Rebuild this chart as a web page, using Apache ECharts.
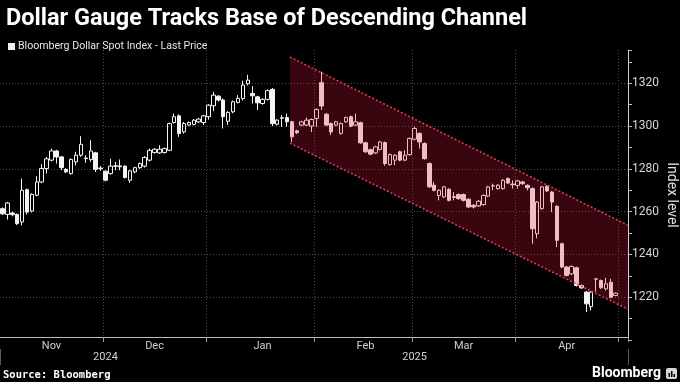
<!DOCTYPE html>
<html><head><meta charset="utf-8">
<script src="https://cdn.jsdelivr.net/npm/echarts@6/dist/echarts.min.js"></script>
<style>html,body{margin:0;padding:0;background:#000;}#c{width:680px;height:382px;}</style>
</head><body><div id="c"></div>
<script>
// Trading days shown (one candle per day), by month
const monthDays = [
  ['2024-11', [1,4,5,6,7,8,11,12,13,14,15,18,19,20,21,22,25,26,27,28,29]],
  ['2024-12', [2,3,4,5,6,9,10,11,12,13,16,17,18,19,20,23,24,26,27,30,31]],
  ['2025-01', [2,3,6,7,8,9,10,13,14,15,16,17,20,21,22,23,24,27,28,29,30,31]],
  ['2025-02', [3,4,5,6,7,10,11,12,13,14,17,18,19,20,21,24,25,26,27,28]],
  ['2025-03', [3,4,5,6,7,10,11,12,13,14,17,18,19,20,21,24,25,26,27,28,31]],
  ['2025-04', [1,2,3,4,7,8,9,10,11,14,15,16,17,21,22,23,24,25,28,29,30]],
  ['2025-05', [1,2]]
];
const monthNames = {'11':'Nov','12':'Dec','01':'Jan','02':'Feb','03':'Mar','04':'Apr','05':'May'};

// Bloomberg Dollar Spot Index daily OHLC
const opens = [1261.4,1258.7,1259.4,1258.7,1255.2,1270.3,1260.3,1267.7,1273.9,1280.2,
1284.1,1288.4,1285.6,1279.8,1277.8,1283.3,1286.4,1285.1,1284.4,1287.5,
1280.4,1278.9,1277.8,1281.2,1281.4,1281.3,1274.7,1278.6,1280.6,1281.3,
1284.1,1287.7,1287.5,1287.7,1288.7,1301.7,1304.8,1297.3,1300.5,1300.8,
1302.0,1301.7,1304.4,1309.5,1314.0,1312.2,1302.3,1306.7,1311.1,1312.9,
1319.8,1315.3,1313.7,1310.6,1312.5,1317.2,1300.9,1303.9,1304.0,1302.0,
1297.8,1300.5,1300.5,1300.0,1303.6,1320.3,1305.6,1301.2,1300.5,1296.6,
1302.0,1304.4,1300.5,1301.6,1292.2,1289.0,1287.5,1289.1,1292.3,1282.0,
1284.1,1288.0,1284.1,1286.7,1293.9,1296.6,1291.9,1282.5,1272.4,1267.6,
1266.9,1270.5,1267.0,1268.0,1268.0,1265.8,1263.0,1262.7,1263.3,1267.3,
1272.0,1270.8,1270.8,1275.5,1272.9,1272.3,1273.9,1272.3,1270.8,1249.7,
1261.4,1271.9,1269.2,1262.5,1245.0,1234.1,1230.9,1233.8,1225.5,1222.4,
1215.6,1228.4,1227.8,1223.9,1227.0,1220.8];
const closes = [1259.0,1264.1,1258.6,1254.4,1270.0,1259.8,1268.1,1273.9,1280.2,1284.7,
1288.4,1285.6,1280.6,1278.6,1284.4,1286.4,1291.5,1284.8,1288.4,1279.8,
1280.1,1274.7,1281.3,1281.5,1281.0,1276.0,1279.1,1280.6,1282.5,1285.3,
1288.7,1289.2,1289.2,1289.5,1301.2,1304.4,1296.6,1301.2,1301.7,1302.8,
1303.3,1304.8,1309.8,1314.5,1312.2,1304.4,1306.4,1311.4,1313.0,1319.2,
1321.5,1314.2,1310.9,1312.5,1316.6,1301.2,1302.8,1303.7,1302.0,1295.0,
1296.9,1302.0,1302.8,1303.1,1307.8,1309.4,1300.5,1297.3,1302.0,1301.2,
1304.0,1300.0,1302.0,1292.2,1288.0,1286.9,1290.3,1292.6,1282.5,1286.7,
1286.4,1284.1,1286.4,1294.2,1298.9,1292.6,1284.8,1271.6,1270.0,1270.0,
1271.6,1265.3,1266.7,1266.1,1265.3,1262.2,1262.2,1264.9,1267.6,1271.6,
1272.1,1272.4,1274.7,1273.4,1272.6,1274.4,1273.1,1271.2,1252.0,1264.5,
1271.6,1269.7,1264.5,1246.6,1234.1,1230.2,1234.4,1225.5,1224.4,1216.9,
1222.4,1228.6,1224.4,1226.3,1220.0,1221.9];
const lows = [1258.5,1256.3,1257.8,1253.8,1253.6,1258.7,1259.6,1267.2,1273.3,1277.8,
1283.5,1282.5,1279.4,1278.0,1277.3,1281.7,1285.6,1282.8,1283.3,1278.6,
1279.1,1274.2,1277.3,1279.4,1279.4,1275.5,1273.4,1278.0,1280.0,1280.6,
1283.5,1287.2,1287.0,1287.2,1288.3,1301.2,1295.0,1296.5,1300.0,1300.3,
1301.5,1300.5,1303.0,1307.0,1311.5,1298.9,1300.5,1306.0,1310.6,1312.0,
1319.0,1310.6,1307.5,1310.0,1312.0,1300.0,1300.3,1299.7,1299.7,1292.6,
1296.3,1300.0,1300.0,1297.3,1299.7,1307.5,1300.0,1295.8,1300.0,1296.0,
1301.5,1299.5,1300.0,1291.7,1287.5,1286.4,1287.0,1288.6,1281.5,1281.5,
1281.7,1283.6,1283.6,1286.2,1293.4,1289.5,1284.3,1271.1,1269.5,1265.3,
1266.4,1264.8,1265.3,1265.6,1264.8,1261.7,1261.5,1262.2,1262.8,1266.8,
1270.0,1270.3,1270.3,1273.0,1270.8,1270.8,1272.5,1270.0,1245.0,1247.5,
1260.9,1269.2,1259.8,1243.4,1233.6,1229.7,1230.4,1225.0,1223.9,1213.0,
1213.8,1222.6,1223.9,1223.1,1219.5,1220.5];
const highs = [1262.0,1264.6,1260.0,1259.2,1275.5,1270.8,1268.6,1276.6,1282.2,1285.6,
1289.5,1288.9,1286.0,1280.3,1284.9,1288.0,1295.3,1286.4,1293.4,1288.0,
1281.3,1279.3,1284.7,1283.3,1284.4,1281.7,1279.5,1281.0,1283.0,1286.0,
1289.5,1289.7,1291.1,1290.0,1301.6,1305.9,1305.5,1302.0,1302.2,1303.3,
1303.8,1305.3,1310.3,1316.1,1314.5,1313.0,1307.0,1312.0,1314.5,1321.2,
1324.0,1318.7,1314.2,1313.0,1317.2,1317.8,1303.3,1305.1,1305.9,1302.5,
1298.3,1302.5,1304.0,1303.6,1308.3,1325.4,1306.1,1301.7,1302.5,1301.7,
1304.5,1304.9,1305.9,1302.1,1292.7,1289.5,1290.8,1293.1,1292.8,1287.2,
1286.9,1288.5,1288.7,1294.7,1299.7,1297.1,1292.4,1283.0,1274.0,1270.5,
1272.1,1271.0,1269.2,1268.5,1268.5,1266.3,1263.5,1265.4,1268.1,1272.1,
1273.1,1272.9,1275.2,1276.0,1274.7,1274.9,1274.4,1272.8,1271.3,1265.0,
1272.1,1272.4,1269.7,1263.0,1245.5,1234.6,1234.9,1234.3,1226.0,1222.9,
1222.9,1228.8,1228.3,1229.1,1228.6,1222.2];

// Descending channel (x in candle-index units, y in index points)
const channelX = [58.6, 127.5];
const channelUpper = [1332.3, 1253.6];
const channelLower = [1292.0, 1214.4];

// Axis tick positions (category indices)
const monthLabelIdx = [10, 31, 53, 74, 94, 115];
const monthBoundaryIdx = [21, 42, 64, 84, 105, 126];
const yearLabelIdx = [21, 84];
const yearBoundaryIdx = [42];
const yTicks = {min: 1200, max: 1335.6, interval: 20};

const categories = [];
monthDays.forEach(([ym, ds]) => ds.forEach(d => categories.push(ym + '-' + String(d).padStart(2, '0'))));
const candles = opens.map((o, i) => [o, closes[i], lows[i], highs[i]]);

const seriesName = 'Bloomberg Dollar Spot Index - Last Price';
const candleColor = '#f4f4f4';
const chart = echarts.init(document.getElementById('c'), null, {renderer: 'canvas'});
chart.setOption({
  backgroundColor: '#000',
  animation: false,
  title: {
    text: 'Dollar Gauge Tracks Base of Descending Channel',
    left: 1, top: 2,
    textStyle: {color: '#fff', fontSize: 23.5, fontWeight: 'bold', fontFamily: 'Roboto'}
  },
  legend: {
    left: 3, top: 36, icon: 'rect', itemWidth: 7, itemHeight: 7, itemGap: 2,
    textStyle: {color: '#e6e6e6', fontSize: 10.6, fontFamily: 'Roboto', padding: [0, 0, 0, -2]},
    data: [{name: seriesName, itemStyle: {color: '#f0f0f0', borderWidth: 0}}],
    selectedMode: false
  },
  grid: {left: 0, right: 52, top: 50, bottom: 42, containLabel: false, outerBoundsMode: 'none'},
  xAxis: [
    {
      type: 'category', data: categories, boundaryGap: true, offset: -3,
      axisLine: {show: true, onZero: false, lineStyle: {color: '#bdbdbd', width: 1}},
      axisTick: {show: true, length: 5, interval: (i) => monthBoundaryIdx.includes(i), lineStyle: {color: '#9a9a9a'}},
      axisLabel: {
        interval: (i) => monthLabelIdx.includes(i), margin: 4,
        color: '#cfcfcf', fontSize: 11, fontFamily: 'Roboto',
        formatter: (v) => monthNames[v.slice(5, 7)]
      },
      splitLine: {show: true, interval: (i) => monthBoundaryIdx.includes(i), lineStyle: {color: '#4a4a4a', type: [1, 2], width: 1}}
    },
    {
      type: 'category', data: categories, boundaryGap: true, position: 'bottom', offset: 9,
      axisLine: {show: false, onZero: false},
      axisTick: {show: true, length: 16, interval: (i) => yearBoundaryIdx.includes(i), lineStyle: {color: '#5a5a5a'}},
      axisLabel: {
        interval: (i) => yearLabelIdx.includes(i), margin: 3,
        color: '#cfcfcf', fontSize: 11, fontFamily: 'Roboto',
        formatter: (v) => v.slice(0, 4)
      },
      splitLine: {show: false}
    },
    {type: 'value', min: -0.5, max: categories.length - 0.5, show: false, axisLine: {onZero: false}}
  ],
  yAxis: {
    type: 'value', position: 'right', min: yTicks.min, max: yTicks.max, interval: yTicks.interval,
    name: 'Index level', nameLocation: 'middle', nameRotate: -90, nameGap: 36, nameMoveOverlap: false,
    nameTextStyle: {color: '#e0e0e0', fontSize: 14, fontFamily: 'Roboto'},
    axisLine: {show: true, onZero: false, lineStyle: {color: '#d0d0d0', width: 1}},
    axisTick: {show: true, length: 4, lineStyle: {color: '#bdbdbd'}},
    minorTick: {show: true, splitNumber: 2, length: 4, lineStyle: {color: '#bdbdbd'}},
    axisLabel: {color: '#d6d6d6', fontSize: 12, fontFamily: 'Roboto', margin: 4, showMinLabel: false, showMaxLabel: false,
      formatter: (v) => String(v)},
    splitLine: {show: true, showMinLine: false, showMaxLine: false, lineStyle: {color: '#4a4a4a', type: [1, 2], width: 1}}
  },
  series: [
    {
      type: 'candlestick', name: seriesName, data: candles, barWidth: 4, z: 2,
      xAxisIndex: 0, yAxisIndex: 0,
      itemStyle: {color: 'rgba(0,0,0,0)', color0: candleColor, borderColor: candleColor, borderColor0: candleColor, borderWidth: 1},
      emphasis: {disabled: true}
    },
    {
      type: 'custom', name: 'channel', xAxisIndex: 2, yAxisIndex: 0, z: 5, silent: true,
      data: [[channelX[0], channelUpper[0]]],
      renderItem: function (params, api) {
        const u0 = api.coord([channelX[0], channelUpper[0]]);
        const u1 = api.coord([channelX[1], channelUpper[1]]);
        const l0 = api.coord([channelX[0], channelLower[0]]);
        const l1 = api.coord([channelX[1], channelLower[1]]);
        return {
          type: 'group',
          children: [
            {type: 'polygon', shape: {points: [u0, u1, l1, l0]}, style: {fill: 'rgba(227,24,63,0.25)', stroke: null}},
            {type: 'polyline', shape: {points: [u0, u1]}, style: {stroke: '#e0385a', lineWidth: 1.6, lineDash: [2, 2], fill: null}},
            {type: 'polyline', shape: {points: [l0, l1]}, style: {stroke: '#e0385a', lineWidth: 1.6, lineDash: [2, 2], fill: null}}
          ]
        };
      }
    }
  ],
  graphic: [
    {type: 'text', left: 3, top: 370, style: {text: 'Source: Bloomberg', fill: '#ffffff', font: 'bold 10.5px "DejaVu Sans Mono"'}},
    {type: 'text', right: 19, top: 366, style: {text: 'Bloomberg', fill: '#ffffff', font: 'bold 14px Roboto'}},
    {type: 'group', right: 3, top: 368, children: [
      {type: 'rect', shape: {x: 0, y: 0, width: 11, height: 11, r: 2}, style: {fill: '#d8d8d8'}},
      {type: 'rect', shape: {x: 2.5, y: 5, width: 1.5, height: 4}, style: {fill: '#000'}},
      {type: 'rect', shape: {x: 5, y: 3, width: 1.5, height: 6}, style: {fill: '#000'}},
      {type: 'rect', shape: {x: 7.5, y: 6, width: 1.5, height: 3}, style: {fill: '#000'}}
    ]}
  ]
});
</script></body></html>
